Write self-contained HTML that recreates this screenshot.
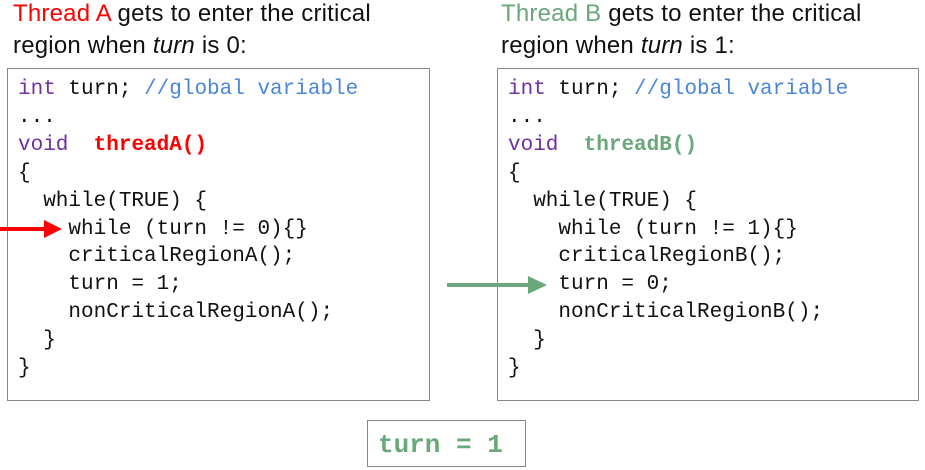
<!DOCTYPE html>
<html><head><style>
body{margin:0;width:925px;height:470px;background:#fff;position:relative;overflow:hidden}
.t{position:absolute;font-family:"Liberation Sans",sans-serif;font-size:24px;color:#111;line-height:32px;letter-spacing:0.2px}
.box{position:absolute;border:1px solid #888;box-sizing:border-box}
.c{position:absolute;font-family:"Liberation Mono",monospace;font-size:21px;color:#111;white-space:pre;line-height:27.9px}
.p{color:#7030a0}.b{color:#4a86d8}.r{color:#f00;font-weight:bold}.g{color:#6aa77a;font-weight:bold}
</style></head><body>
<div class="t" style="left:13px;top:-2px"><span style="color:#f00">Thread A</span> gets to enter the critical<br>region when <i>turn</i> is 0:</div>
<div class="t" style="left:501px;top:-2px"><span style="color:#6aa77a">Thread B</span> gets to enter the critical<br>region when <i>turn</i> is 1:</div>
<div class="box" style="left:7px;top:68px;width:423px;height:333px"></div>
<div class="box" style="left:497px;top:68px;width:422px;height:333px"></div>
<div class="c" style="left:18px;top:76px"><span class="p">int</span> turn; <span class="b">//global variable</span>
...
<span class="p">void</span>  <span class="r">threadA()</span>
{
  while(TRUE) {
    while (turn != 0){}
    criticalRegionA();
    turn = 1;
    nonCriticalRegionA();
  }
}</div>
<div class="c" style="left:508px;top:76px"><span class="p">int</span> turn; <span class="b">//global variable</span>
...
<span class="p">void</span>  <span class="g">threadB()</span>
{
  while(TRUE) {
    while (turn != 1){}
    criticalRegionB();
    turn = 0;
    nonCriticalRegionB();
  }
}</div>
<svg style="position:absolute;left:0;top:0" width="925" height="470">
<line x1="0" y1="229" x2="46" y2="229" stroke="#f00" stroke-width="4"/>
<polygon points="44,220 62,229 44,238" fill="#f00"/>
<line x1="447" y1="285" x2="530" y2="285" stroke="#6aa77a" stroke-width="4"/>
<polygon points="528,276 547,285 528,294" fill="#6aa77a"/>
</svg>
<div class="box" style="left:367px;top:420px;width:159px;height:47px"></div>
<div class="c g" style="left:378px;top:428px;font-size:26px;line-height:34px">turn = 1</div>
</body></html>
